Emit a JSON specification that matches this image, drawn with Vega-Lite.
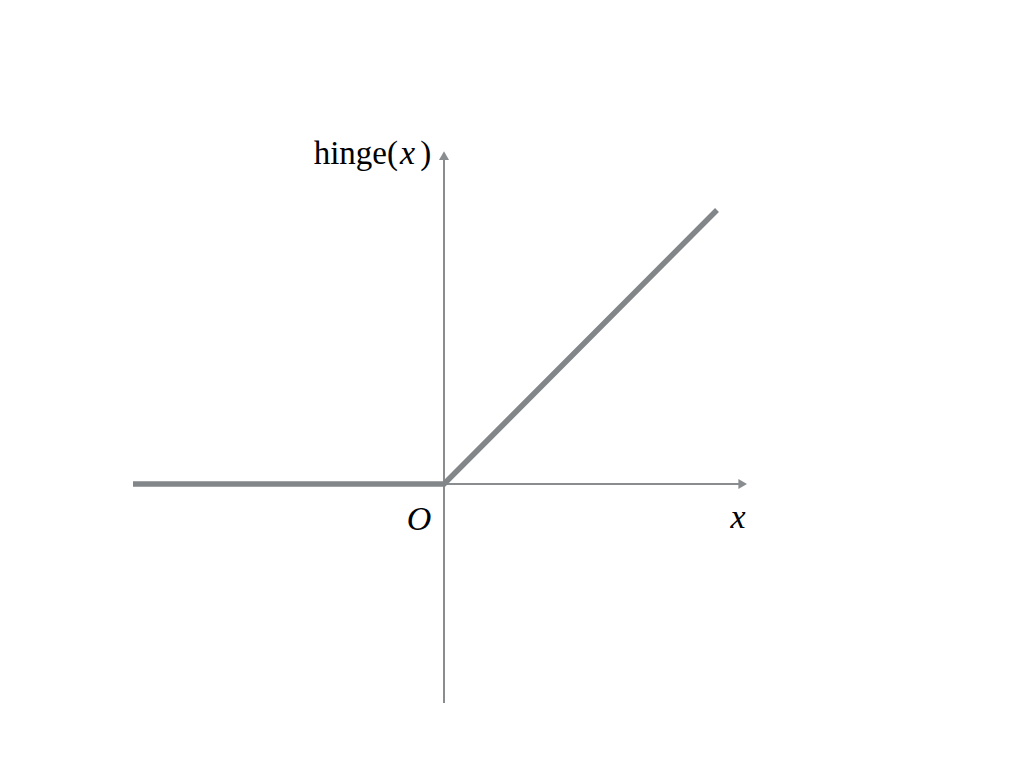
{
  "$schema": "https://vega.github.io/schema/vega-lite/v6.json",
  "width": 1024,
  "height": 768,
  "autosize": {"type": "fit", "contains": "padding"},
  "padding": 0,
  "background": "white",
  "config": {"view": {"stroke": null}},
  "datasets": {
    "hinge": [
      {"x": -3.11, "y": 0},
      {"x": 0, "y": 0},
      {"x": 2.73, "y": 2.74}
    ],
    "axes": [
      {"x": -3.11, "x2": 2.98, "y": 0, "y2": 0},
      {"x": 0, "x2": 0, "y": -2.19, "y2": 3.28}
    ],
    "arrows": [
      {"x": 2.987, "y": 0, "shape": "triangle-right"},
      {"x": 0, "y": 3.283, "shape": "triangle-up"}
    ],
    "labels": [
      {"x": -0.46, "y": 3.2, "text": "hinge(", "style": "normal", "align": "right"},
      {"x": -0.44, "y": 3.2, "text": "x", "style": "italic", "align": "left"},
      {"x": -0.238, "y": 3.2, "text": ")", "style": "normal", "align": "left"},
      {"x": -0.25, "y": -0.46, "text": "O", "style": "italic", "align": "center"},
      {"x": 2.94, "y": -0.44, "text": "x", "style": "italic", "align": "center"}
    ]
  },
  "encoding": {
    "x": {"type": "quantitative", "scale": {"domain": [-4.44, 5.8], "zero": false, "nice": false}, "axis": null},
    "y": {"type": "quantitative", "scale": {"domain": [-2.84, 4.84], "zero": false, "nice": false}, "axis": null}
  },
  "layer": [
    {
      "data": {"name": "axes"},
      "mark": {"type": "rule", "color": "#8a8d90", "strokeWidth": 2},
      "encoding": {
        "x": {"field": "x", "type": "quantitative"},
        "x2": {"field": "x2"},
        "y": {"field": "y", "type": "quantitative"},
        "y2": {"field": "y2"}
      }
    },
    {
      "data": {"name": "arrows"},
      "mark": {"type": "point", "filled": true, "color": "#8a8d90", "size": 100, "opacity": 1},
      "encoding": {
        "x": {"field": "x", "type": "quantitative"},
        "y": {"field": "y", "type": "quantitative"},
        "shape": {"field": "shape", "type": "nominal", "scale": null}
      }
    },
    {
      "data": {"name": "hinge"},
      "mark": {"type": "line", "color": "#838689", "strokeWidth": 5.5, "strokeCap": "butt", "strokeJoin": "miter"},
      "encoding": {
        "x": {"field": "x", "type": "quantitative"},
        "y": {"field": "y", "type": "quantitative"}
      }
    },
    {
      "data": {"name": "labels"},
      "transform": [{"filter": "datum.style == 'normal' && datum.align == 'right'"}],
      "mark": {"type": "text", "font": "Liberation Serif", "fontSize": 33, "align": "right", "baseline": "alphabetic", "color": "black"},
      "encoding": {
        "x": {"field": "x", "type": "quantitative"},
        "y": {"field": "y", "type": "quantitative"},
        "text": {"field": "text"}
      }
    },
    {
      "data": {"name": "labels"},
      "transform": [{"filter": "datum.style == 'normal' && datum.align == 'left'"}],
      "mark": {"type": "text", "font": "Liberation Serif", "fontSize": 33, "align": "left", "baseline": "alphabetic", "color": "black"},
      "encoding": {
        "x": {"field": "x", "type": "quantitative"},
        "y": {"field": "y", "type": "quantitative"},
        "text": {"field": "text"}
      }
    },
    {
      "data": {"name": "labels"},
      "transform": [{"filter": "datum.style == 'italic' && datum.align == 'left'"}],
      "mark": {"type": "text", "font": "Liberation Serif", "fontSize": 34, "fontStyle": "italic", "align": "left", "baseline": "alphabetic", "color": "black"},
      "encoding": {
        "x": {"field": "x", "type": "quantitative"},
        "y": {"field": "y", "type": "quantitative"},
        "text": {"field": "text"}
      }
    },
    {
      "data": {"name": "labels"},
      "transform": [{"filter": "datum.style == 'italic' && datum.align == 'center'"}],
      "mark": {"type": "text", "font": "Liberation Serif", "fontSize": 34, "fontStyle": "italic", "align": "center", "baseline": "alphabetic", "color": "black"},
      "encoding": {
        "x": {"field": "x", "type": "quantitative"},
        "y": {"field": "y", "type": "quantitative"},
        "text": {"field": "text"}
      }
    }
  ]
}
